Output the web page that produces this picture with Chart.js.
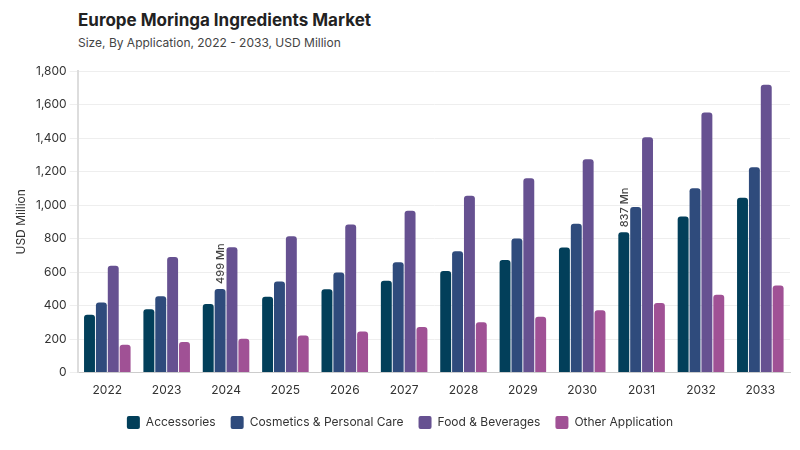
<!DOCTYPE html>
<html>
<head>
<meta charset="utf-8">
<script src="https://cdn.jsdelivr.net/npm/chart.js@4"></script>
<style>
  body { margin: 0; background: #fff; font-family: Inter, "Noto Sans", sans-serif; }
  #wrap { position: relative; width: 800px; height: 450px; }
  h1 { position: absolute; left: 78px; top: 10px; margin: 0; font-size: 17px; font-weight: 700; color: #222; }
  h2 { position: absolute; left: 78px; top: 35px; margin: 0; font-size: 12px; font-weight: 400; color: #444; }
  #box { position: absolute; left: 0; top: 55px; width: 800px; height: 395px; }
</style>
</head>
<body>
<div id="wrap">
  <h1>Europe Moringa Ingredients Market</h1>
  <h2>Size, By Application, 2022 - 2033, USD Million</h2>
  <div id="box"><canvas id="chart"></canvas></div>
</div>
<script>
const years = ['2022', '2023', '2024', '2025', '2026', '2027', '2028', '2029', '2030', '2031', '2032', '2033'];
const accessories = [346, 378, 410, 452, 498, 548, 606, 672, 746, 837, 932, 1044];
const cosmetics = [418, 456, 499, 544, 598, 658, 724, 800, 888, 988, 1100, 1226];
const food = [638, 690, 748, 814, 884, 966, 1056, 1160, 1274, 1404, 1552, 1718];
const other = [166, 182, 202, 222, 246, 272, 300, 334, 372, 416, 464, 520];
// which bars get a value label: [datasetIndex, yearIndex, text]
const callouts = [[1, 2, '499 Mn'], [0, 9, '837 Mn']];

const calloutPlugin = {
    id: 'callouts',
    afterDatasetsDraw: function (chart) {
        const ctx = chart.ctx;
        callouts.forEach(function (c) {
            const bar = chart.getDatasetMeta(c[0]).data[c[1]];
            ctx.save();
            ctx.translate(bar.x + 1, bar.y - 5);
            ctx.rotate(-Math.PI / 2);
            ctx.font = '500 11px Inter';
            ctx.fillStyle = '#444';
            ctx.textAlign = 'left';
            ctx.textBaseline = 'middle';
            ctx.fillText(c[2], 0, 0);
            ctx.restore();
        });
    }
};

const mk = function (label, data, color) {
    return {
        label: label, data: data, backgroundColor: color,
        borderRadius: { topLeft: 3, topRight: 3 }, borderSkipped: 'bottom',
        categoryPercentage: 0.8, barPercentage: 0.92
    };
};

new Chart(document.getElementById('chart'), {
    type: 'bar',
    data: {
        labels: years,
        datasets: [
            mk('Accessories', accessories, '#023f5a'),
            mk('Cosmetics & Personal Care', cosmetics, '#2f4b7c'),
            mk('Food & Beverages', food, '#665191'),
            mk('Other Application', other, '#a05195')
        ]
    },
    options: {
        responsive: true,
        maintainAspectRatio: false,
        animation: false,
        layout: { padding: { left: 10, right: 10, top: 16, bottom: 11 } },
        plugins: {
            legend: {
                position: 'bottom',
                labels: { boxWidth: 13, boxHeight: 13, useBorderRadius: true, borderRadius: 2, padding: 15, color: '#333', font: { family: 'Inter', size: 12 } }
            },
            tooltip: { enabled: false }
        },
        scales: {
            x: {
                grid: { display: false },
                border: { color: '#ccc' },
                ticks: { color: '#333', font: { family: 'Inter', size: 12 } }
            },
            y: {
                min: 0, max: 1800,
                ticks: { stepSize: 200, color: '#333', font: { family: 'Inter', size: 12 } },
                grid: { color: '#eee' },
                border: { color: '#ddd', width: 2 },
                title: { display: true, text: 'USD Million', color: '#333', font: { family: 'Inter', size: 12 } }
            }
        }
    },
    plugins: [calloutPlugin]
});
</script>
</body>
</html>
